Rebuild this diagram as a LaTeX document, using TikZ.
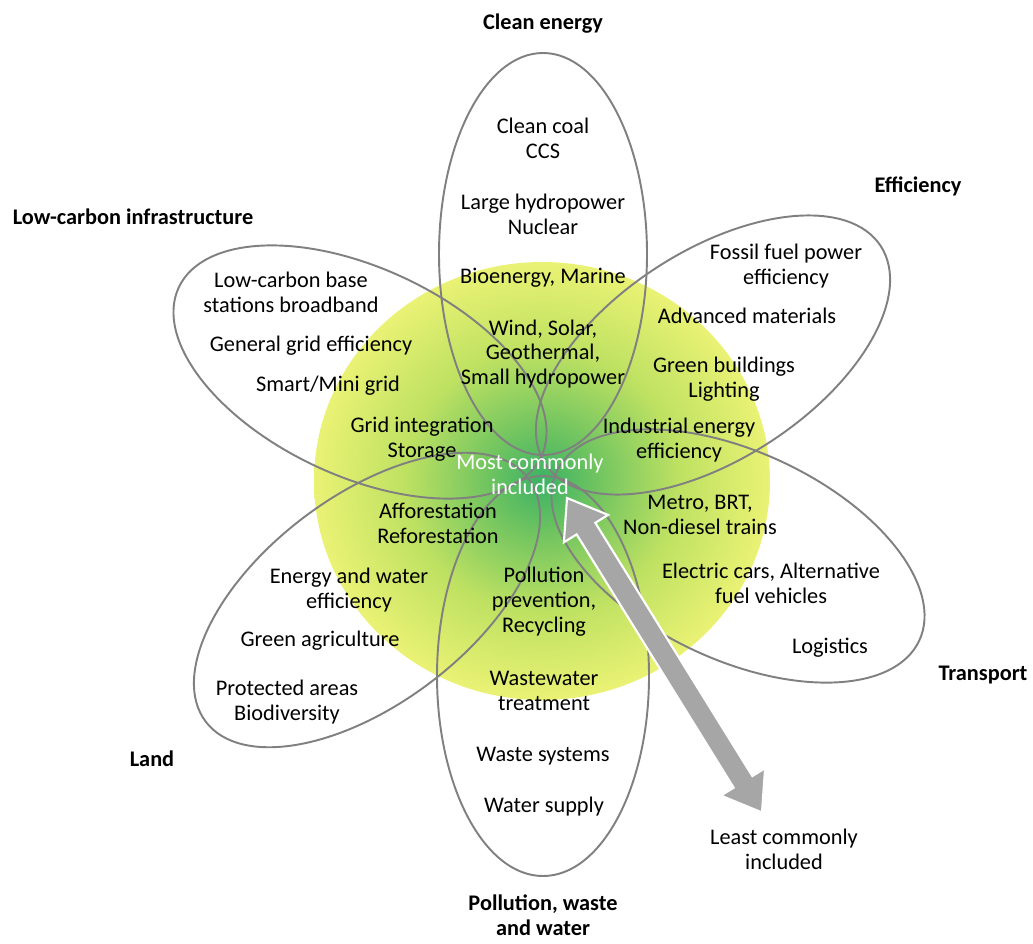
\documentclass[tikz,border=0pt]{standalone}
\usepackage{fontspec}
\setmainfont{Carlito}
\usetikzlibrary{calc}
\definecolor{petalgray}{RGB}{128,128,128}
\definecolor{arrowgray}{RGB}{166,166,166}
\definecolor{bloomgreen}{RGB}{58,178,100}
\definecolor{bloomlime}{RGB}{112,196,96}
\definecolor{bloomchart}{RGB}{190,225,98}
\definecolor{bloomyellow}{RGB}{234,242,116}
\pgfdeclareradialshading{bloom}{\pgfpoint{0bp}{0bp}}{%
  color(0bp)=(bloomgreen); color(6bp)=(bloomlime); color(15bp)=(bloomchart);
  color(25bp)=(bloomyellow); color(50bp)=(bloomyellow)}
\tikzstyle{petal}=[draw=petalgray, line width=1.1pt]
\tikzstyle{item}=[align=center, inner sep=0pt, font=\fontsize{12.7}{14.2}\selectfont]
\tikzstyle{heading}=[item, font=\fontsize{12.7}{14.2}\selectfont\bfseries]
\tikzstyle{bigarrow}=[fill=arrowgray, draw=white, line width=1.2pt, line join=miter]

\begin{document}
\begin{tikzpicture}[x=0.02cm, y=-0.02cm]
  \useasboundingbox (0,0) rectangle (1033,943);

  % core of the flower
  \shade[shading=bloom] (542,481) ellipse [x radius=228, y radius=219];

  % petals
  \draw[petal] (543,254) ellipse [x radius=104, y radius=201];
  \draw[petal] (543,676) ellipse [x radius=106, y radius=200];
  \draw[petal] (713,355) ellipse [x radius=200, y radius=104, rotate=33];
  \draw[petal] (367,600) ellipse [x radius=202, y radius=104, rotate=37];
  \draw[petal] (738,556) ellipse [x radius=200, y radius=104, rotate=-25];
  \draw[petal] (360,372) ellipse [x radius=200, y radius=104, rotate=-25];

  % petal headings
  \node[heading] (clean) at (543,24) {Clean energy};
  \node[heading] (effic) at (918,186) {Efficiency};
  \node[heading] (infra) at (133,217) {Low-carbon infrastructure};
  \node[heading] (transp) at (983,675) {Transport};
  \node[heading] (land) at (152,759) {Land};
  \node[heading] (pollu) at (543,915) {Pollution, waste\\and water};

  % clean energy
  \node[item] (coal) at (543,138) {Clean coal\\CCS};
  \node[item] (hydro) at (543,214) {Large hydropower\\Nuclear};
  \node[item] (bio) at (543,278) {Bioenergy, Marine};
  \node[item] (wind) at (543,354) {Wind, Solar,\\Geothermal,\\Small hydropower};

  % efficiency
  \node[item] (fossil) at (786,266) {Fossil fuel power\\efficiency};
  \node[item] (materials) at (747,316) {Advanced materials};
  \node[item] (buildings) at (724,379) {Green buildings\\Lighting};
  \node[item] (industry) at (679,440) {Industrial energy\\efficiency};

  % transport
  \node[item] (metro) at (700,515) {Metro, BRT,\\Non-diesel trains};
  \node[item] (cars) at (771,583) {Electric cars, Alternative\\fuel vehicles};
  \node[item] (logistics) at (830,648) {Logistics};

  % pollution, waste and water
  \node[item] (recycling) at (544,602) {Pollution\\prevention,\\Recycling};
  \node[item] (wastewater) at (544,691) {Wastewater\\treatment};
  \node[item] (wastesys) at (543,756) {Waste systems};
  \node[item] (supply) at (544,807) {Water supply};

  % land
  \node[item] (forest) at (438,523) {Afforestation\\Reforestation};
  \node[item] (energywater) at (349,590) {Energy and water\\efficiency};
  \node[item] (agri) at (320,641) {Green agriculture};
  \node[item] (protected) at (287,702) {Protected areas\\Biodiversity};

  % low-carbon infrastructure
  \node[item] (stations) at (291,292) {Low-carbon base\\stations broadband};
  \node[item] (grideff) at (311,346) {General grid efficiency};
  \node[item] (smart) at (328,386) {Smart/Mini grid};
  \node[item] (storage) at (422,439) {Grid integration\\Storage};

  % scale of inclusion
  \node[item, text=white] (mostinc) at (530,474) {Most commonly\\included};
  \node[item] (leastinc) at (784,849) {Least commonly\\included};

  \coordinate (most) at (567,498);
  \coordinate (least) at (762,812);
  \begin{scope}[shift={(most)}, rotate=-58.2]
    \filldraw[bigarrow] (0,0) -- (36,26) -- (36,11) -- (334,11) -- (334,26)
      -- (370,0) -- (334,-26) -- (334,-11) -- (36,-11) -- (36,-26) -- cycle;
  \end{scope}
\end{tikzpicture}
\end{document}
